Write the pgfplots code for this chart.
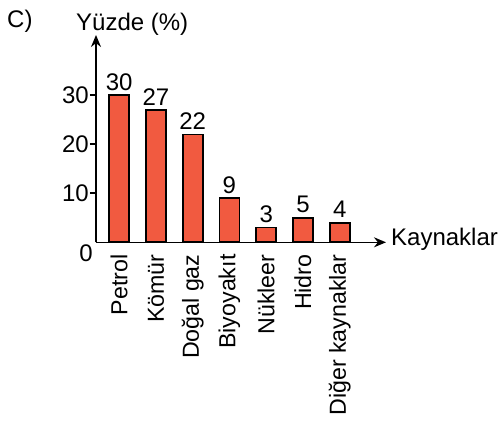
\documentclass[border=0pt]{standalone}
\usepackage{fontspec}
\setmainfont{Liberation Sans}
\usepackage{pgfplots}
\pgfplotsset{compat=1.18}
\usetikzlibrary{arrows.meta}
\definecolor{barred}{HTML}{F15A40}
\begin{document}
\begin{tikzpicture}[x=1pt,y=1pt, font=\fontsize{24}{28}\selectfont]
\useasboundingbox (0,0) rectangle (499,-421);
\begin{axis}[
  at={(96pt,-242.3pt)}, anchor=south west,
  scale only axis, width=290pt, height=207.3pt,
  xmin=-0.63, xmax=7.26, ymin=0, ymax=42.3,
  axis x line*=bottom, axis y line*=left,
  axis line style={line width=1.6pt, -{Stealth[length=12pt,width=10pt]}},
  ytick={10,20,30},
  xtick={0,...,6},
  xticklabels={Petrol,Kömür,Doğal gaz,Biyoyakıt,Nükleer,Hidro,Diğer kaynaklar},
  tick align=outside, major tick length=6pt,
  ytick style={line width=1.6pt, black},
  xtick style={draw=none},
  /pgf/number format/assume math mode=true,
  yticklabel style={inner sep=1pt},
  xticklabel style={rotate=90, anchor=east, inner sep=0pt, font=\fontsize{23.2}{28}\selectfont},
  xticklabel shift=6pt,
  nodes near coords,
  nodes near coords style={color=black, inner sep=4pt},
  clip=false,
]
\addplot[ybar, fill=barred, draw=black, line width=1.7pt, bar width=20pt]
  coordinates {(0,30)(1,27)(2,22)(3,9)(4,3)(5,5)(6,4)};
\end{axis}
\node[anchor=north east, inner sep=0pt] at (93,-245) {0};
\node[anchor=base west, inner sep=0pt] at (7,-27) {C)};
\node[anchor=base west, inner sep=0pt] at (76,-30) {Yüzde (\%)};
\node[anchor=base west, inner sep=0pt] at (391,-245) {Kaynaklar};
\end{tikzpicture}
\end{document}
